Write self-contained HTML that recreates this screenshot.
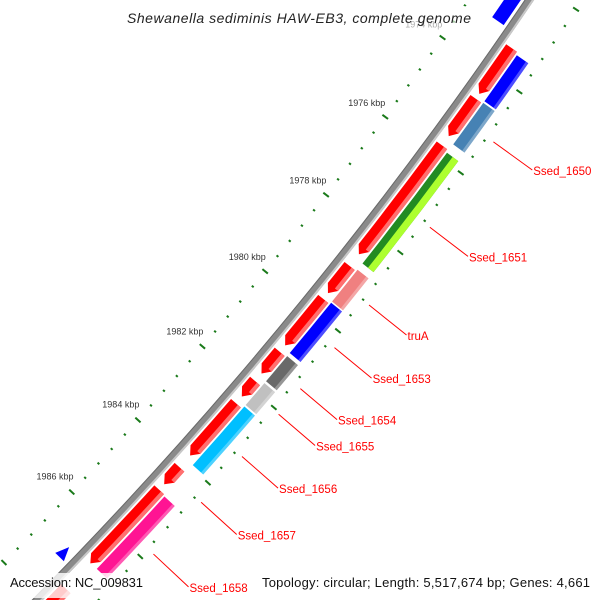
<!DOCTYPE html>
<html><head><meta charset="utf-8"><style>
html,body{margin:0;padding:0;background:#fff;width:600px;height:600px;overflow:hidden;}
svg{display:block;font-family:"Liberation Sans",sans-serif;overflow:hidden;}
</style></head><body>
<svg id="map" width="600" height="600" viewBox="0 0 600 600" xmlns="http://www.w3.org/2000/svg">
<g id="ticks"></g>
<g id="backbone"></g>
<g id="genes"></g>
<g id="labels"></g>
<rect x="122" y="6" width="356" height="25" fill="#fff" opacity="0.6"/>
<text x="127" y="23" font-size="14" font-style="italic" fill="#222" textLength="344">Shewanella sediminis HAW-EB3, complete genome</text>
<rect x="4" y="573" width="148" height="25" fill="#fff" opacity="0.8"/>
<text x="10" y="587" font-size="13" fill="#111" textLength="133">Accession: NC_009831</text>
<rect x="256" y="573" width="340" height="25" fill="#fff" opacity="0.8"/>
<text x="262" y="587" font-size="13" fill="#111" textLength="328">Topology: circular; Length: 5,517,674 bp; Genes: 4,661</text>
</svg>
<script>
// data (kbp)
const redStarts = [1973.37, 1974.62, 1975.78, 1978.84, 1979.69, 1981.07, 1981.84, 1982.43, 1984.15, 1984.76, 1987.5];
const redEnds   = [1974.50, 1975.55, 1978.54, 1979.54, 1980.90, 1981.64, 1982.25, 1983.83, 1984.61, 1986.79, 1989.5];
const colStarts = [1973.43, 1974.60, 1975.84, 1978.80, 1979.65, 1981.04, 1981.75, 1982.37, 1984.79];
const colEnds   = [1974.56, 1975.63, 1978.64, 1979.62, 1980.96, 1981.70, 1982.33, 1983.94, 1986.78];
const colColors = ["#0000ff", "#4682b4", "#228b22", "#f08080", "#0000ff", "#696969", "#c0c0c0", "#00bfff", "#ff1493"];
const colNames  = ["", "Ssed_1650", "Ssed_1651", "truA", "Ssed_1653", "Ssed_1654", "Ssed_1655", "Ssed_1656", "Ssed_1658"];
const innerStarts = [1970.5, 1986.85];
const innerEnds   = [1973.08, 1987.13];
const extraLabelNames = ["Ssed_1657"];
const extraLabelPos   = [1984.38];
const axisLabels = [1974, 1976, 1978, 1980, 1982, 1984, 1986];

const CX = -2976, CY = -2373, T0 = 36.53, DEG = 0.670;
const NS = "http://www.w3.org/2000/svg";
function pt(r, k) { const t = (T0 + (k - 1976) * DEG) * Math.PI / 180; return [CX + r * Math.cos(t), CY + r * Math.sin(t)]; }
function f(p) { return p[0].toFixed(2) + " " + p[1].toFixed(2); }
function mk(tag, parent) { const e = document.createElementNS(NS, tag); document.getElementById(parent).appendChild(e); return e; }
function band(ri, ro, k1, k2) {
  return "M" + f(pt(ro, k1)) + " A" + ro + " " + ro + " 0 0 1 " + f(pt(ro, k2)) + " L" + f(pt(ri, k2)) + " A" + ri + " " + ri + " 0 0 0 " + f(pt(ri, k1)) + " Z";
}
function arrow(ri, ro, k1, k2, h) {
  const kh = Math.max(k1, k2 - h), rm = (ri + ro) / 2;
  return "M" + f(pt(ro, k1)) + " A" + ro + " " + ro + " 0 0 1 " + f(pt(ro, kh)) + " L" + f(pt(rm, k2)) + " L" + f(pt(ri, kh)) + " A" + ri + " " + ri + " 0 0 0 " + f(pt(ri, k1)) + " Z";
}

// ticks
for (let i = 0; i <= 60; i++) {
  const k = 1968 + i * 0.4;
  const major = Math.abs(k / 2 - Math.round(k / 2)) < 0.01;
  [4183, 4277].forEach(function (r) {
    const len = major ? 3.5 : 1.2;
    const a = pt(r - len, k), b = pt(r + len, k);
    const l = mk("line", "ticks");
    
    
    l.setAttribute("x1", a[0]); l.setAttribute("y1", a[1]); l.setAttribute("x2", b[0]); l.setAttribute("y2", b[1]);
    l.setAttribute("stroke", "#1a7a1a"); l.setAttribute("stroke-width", "2");
  });
}
axisLabels.forEach(function (k) {
  const p = pt(4160, k);
  const t = mk("text", "ticks");
  
  
  t.setAttribute("x", p[0]); t.setAttribute("y", p[1] + 3);
  t.setAttribute("text-anchor", "middle"); t.setAttribute("font-size", "9"); t.setAttribute("fill", "#333");
  t.textContent = k + " kbp";
});

// backbone
[[4229, 4237, "#8a8a8a"], [4235, 4237, "#c8c8c8"], [4229, 4230, "#6a6a6a"]].forEach(function (b) {
  const p = mk("path", "backbone");
  
  
  p.setAttribute("d", band(b[0], b[1], 1966, 1994)); p.setAttribute("fill", b[2]);
});

// red genes (forward track)
for (let i = 0; i < redStarts.length; i++) {
  const p = mk("path", "genes");
  
  
  p.setAttribute("d", arrow(4239, 4252, redStarts[i], redEnds[i], 0.16)); p.setAttribute("fill", "#ff0000");
  const hl = mk("path", "genes");
  
  
  hl.setAttribute("d", band(4248, 4252, redStarts[i], Math.max(redStarts[i], redEnds[i] - 0.16))); hl.setAttribute("fill", "#ff7070");
}
// colored genes
for (let i = 0; i < colStarts.length; i++) {
  const p = mk("path", "genes");
  
  
  p.setAttribute("d", band(4254, 4268, colStarts[i], colEnds[i])); p.setAttribute("fill", colColors[i]);
  const hl = mk("path", "genes");
  
  
  if (colColors[i] === "#228b22") {
    hl.setAttribute("d", band(4261, 4268, colStarts[i], colEnds[i])); hl.setAttribute("fill", "#adff2f");
  } else {
    hl.setAttribute("d", band(4265, 4268, colStarts[i], colEnds[i])); hl.setAttribute("fill", "#ffffff"); hl.setAttribute("opacity", "0.3");
  }
}
// inner genes
for (let i = 0; i < innerStarts.length; i++) {
  const p = mk("path", "genes");
  
  
  p.setAttribute("d", i === 0 ? band(4212, 4226, innerStarts[i], innerEnds[i]) : arrow(4213, 4225, innerEnds[i], innerStarts[i], -0.12));
  p.setAttribute("fill", "#0000ff");
}

// labels
function label(name, k) {
  const a = pt(4285, k), b = pt(4333, k);
  const l = mk("line", "labels");
  
  
  l.setAttribute("x1", a[0]); l.setAttribute("y1", a[1]); l.setAttribute("x2", b[0]); l.setAttribute("y2", b[1]);
  l.setAttribute("stroke", "#ff0000"); l.setAttribute("stroke-width", "1");
  const t = mk("text", "labels");
  
  
  t.setAttribute("x", b[0] + 1); t.setAttribute("y", b[1] + 5);
  t.setAttribute("font-size", "11.5"); t.setAttribute("fill", "#ff0000");
  t.textContent = name;
}
for (let i = 0; i < colNames.length; i++) if (colNames[i]) label(colNames[i], (colStarts[i] + colEnds[i]) / 2);
for (let i = 0; i < extraLabelNames.length; i++) label(extraLabelNames[i], extraLabelPos[i]);
</script>
</body></html>
